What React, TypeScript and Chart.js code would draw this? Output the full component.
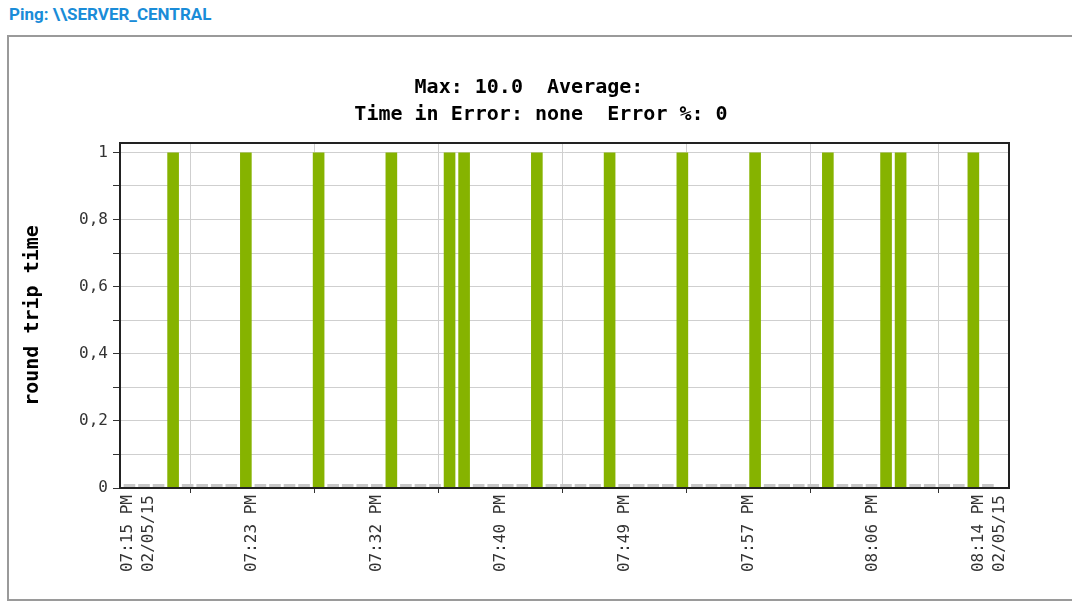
import React, { useEffect, useRef } from "react";
import { Chart, registerables } from "chart.js";

Chart.register(...registerables);

// ---- data ----
const headerText = "Ping: \\\\SERVER_CENTRAL";
const titleLines = ["Max: 10.0  Average:  ", "Time in Error: none  Error %: 0"];
const yAxisTitle = "round trip time";

const sampleTimes = [
  "07:15", "07:16", "07:17", "07:18", "07:19", "07:20", "07:21", "07:22", "07:23", "07:24",
  "07:25", "07:26", "07:27", "07:28", "07:29", "07:30", "07:31", "07:32", "07:33", "07:34",
  "07:35", "07:36", "07:37", "07:38", "07:39", "07:40", "07:41", "07:42", "07:43", "07:44",
  "07:45", "07:46", "07:47", "07:48", "07:49", "07:50", "07:51", "07:52", "07:53", "07:54",
  "07:55", "07:56", "07:57", "07:58", "07:59", "08:00", "08:01", "08:02", "08:03", "08:04",
  "08:05", "08:06", "08:07", "08:08", "08:09", "08:10", "08:11", "08:12", "08:13", "08:14",
];
const roundTrip = [
  0, 0, 0, 1, 0, 0, 0, 0, 1, 0,
  0, 0, 0, 1, 0, 0, 0, 0, 1, 0,
  0, 0, 1, 1, 0, 0, 0, 0, 1, 0,
  0, 0, 0, 1, 0, 0, 0, 0, 1, 0,
  0, 0, 0, 1, 0, 0, 0, 0, 1, 0,
  0, 0, 1, 1, 0, 0, 0, 0, 1, 0,
];

// minutes after 07:15
const xTickValues = [-0.1, 8.43, 16.97, 25.5, 34.03, 42.57, 51.1, 60.05];
const xTickLabels = [
  ["07:15 PM", "02/05/15"],
  ["07:23 PM"],
  ["07:32 PM"],
  ["07:40 PM"],
  ["07:49 PM"],
  ["07:57 PM"],
  ["08:06 PM"],
  ["08:14 PM", "02/05/15"],
];
const yTickValues = [0, 0.1, 0.2, 0.3, 0.4, 0.5, 0.6, 0.7, 0.8, 0.9, 1];
const yTickLabels = ["0", "", "0,2", "", "0,4", "", "0,6", "", "0,8", "", "1"];

const GREEN = "#86b300";
const STUB = "#c8c8c8";
const MONO = "'DejaVu Sans Mono', monospace";

const toMinutes = (t: string) => {
  const [h, m] = t.split(":").map(Number);
  return h * 60 + m - (7 * 60 + 15);
};

const xLabelPlugin = {
  id: "xLabels",
  afterDraw(chart: any) {
    const x = chart.scales.x;
    const ctx = chart.ctx;
    ctx.save();
    ctx.font = `16px ${MONO}`;
    ctx.fillStyle = "#333";
    ctx.textAlign = "right";
    ctx.textBaseline = "middle";
    const lineGap = 21;
    xTickValues.forEach((v, i) => {
      const px = x.getPixelForValue(v);
      const lines = xTickLabels[i];
      const last = i === xTickValues.length - 1;
      lines.forEach((line, j) => {
        const dx = last ? -(lines.length - 1 - j) * lineGap - 3 : j * lineGap;
        ctx.save();
        ctx.translate(px + dx, x.top + 7);
        ctx.rotate(-Math.PI / 2);
        ctx.fillText(line, 0, 0);
        ctx.restore();
      });
    });
    ctx.restore();
  },
};

const framePlugin = {
  id: "frame",
  afterDatasetsDraw(chart: any) {
    const { ctx, chartArea } = chart;
    const { left, top, right, bottom } = chartArea;
    ctx.save();
    ctx.strokeStyle = "#222";
    ctx.lineWidth = 2;
    ctx.strokeRect(left, top, right - left, bottom - top);
    ctx.restore();
  },
};

export default function App() {
  const ref = useRef<HTMLCanvasElement | null>(null);

  useEffect(() => {
    if (!ref.current) return;
    const chart = new Chart(ref.current, {
      type: "bar",
      data: {
        datasets: [
          {
            data: sampleTimes.map((t, i) => ({ x: toMinutes(t), y: roundTrip[i] })),
            backgroundColor: (c: any) => (c.raw && c.raw.y > 0 ? GREEN : STUB),
            borderWidth: 0,
            minBarLength: 4,
            barPercentage: 0.8,
            categoryPercentage: 1,
          } as any,
        ],
      },
      options: {
        animation: false,
        responsive: false,
        devicePixelRatio: 1,
        events: [],
        layout: { padding: 0 },
        plugins: {
          legend: { display: false },
          tooltip: { enabled: false },
          title: {
            display: true,
            text: titleLines,
            color: "#000",
            font: { family: MONO, size: 20, weight: "bold", lineHeight: 1.35 },
            padding: { top: 36.5, bottom: 14.5 },
          },
        },
        scales: {
          x: {
            type: "linear",
            min: -0.65,
            max: 60.45,
            offset: false,
            afterBuildTicks: (s: any) => {
              s.ticks = xTickValues.map((v) => ({ value: v }));
            },
            afterFit: (s: any) => {
              s.height = 110;
            },
            ticks: { display: false, autoSkip: false },
            grid: { color: "#cfcfcf", lineWidth: 1, tickLength: 5, tickColor: "#333" },
            border: { display: false },
          },
          y: {
            type: "linear",
            min: 0,
            max: 1.028,
            bounds: "data",
            afterBuildTicks: (s: any) => {
              s.ticks = yTickValues.map((v) => ({ value: v }));
            },
            afterFit: (s: any) => {
              s.width = 110;
            },
            ticks: {
              autoSkip: false,
              padding: 5,
              color: "#333",
              font: { family: MONO, size: 16 },
              callback: (_v: any, i: number) => yTickLabels[i],
            },
            grid: { color: "#cfcfcf", lineWidth: 1, tickLength: 7, tickColor: "#333" },
            border: { display: false },
            title: {
              display: true,
              text: yAxisTitle,
              color: "#000",
              font: { family: MONO, size: 20, weight: "bold" },
              padding: { top: 11, bottom: 0 },
            },
          },
          yR: {
            type: "linear",
            position: "right",
            display: true,
            grid: { display: false },
            ticks: { display: false },
            border: { display: false },
            afterFit: (s: any) => {
              s.width = 63;
            },
          },
        },
      } as any,
      plugins: [xLabelPlugin, framePlugin],
    });
    return () => chart.destroy();
  }, []);

  return (
    <div
      style={{
        position: "absolute",
        left: 0,
        top: 0,
        width: 1072,
        height: 602,
        overflow: "hidden",
        background: "#fff",
      }}
    >
      <div
        style={{
          position: "absolute",
          left: 9,
          top: 6,
          fontFamily: "Roboto, 'Noto Sans', sans-serif",
          fontWeight: 700,
          fontSize: 17,
          lineHeight: "17px",
          color: "#1a8cd8",
          whiteSpace: "nowrap",
        }}
      >
        {headerText}
      </div>
      <div
        style={{
          position: "absolute",
          left: 7,
          top: 35,
          width: 1080,
          height: 562,
          border: "2px solid #9a9a9a",
          borderRight: "none",
        }}
      />
      <canvas
        ref={ref}
        width={1062}
        height={560}
        style={{ position: "absolute", left: 10, top: 38, display: "block" }}
      />
    </div>
  );
}
